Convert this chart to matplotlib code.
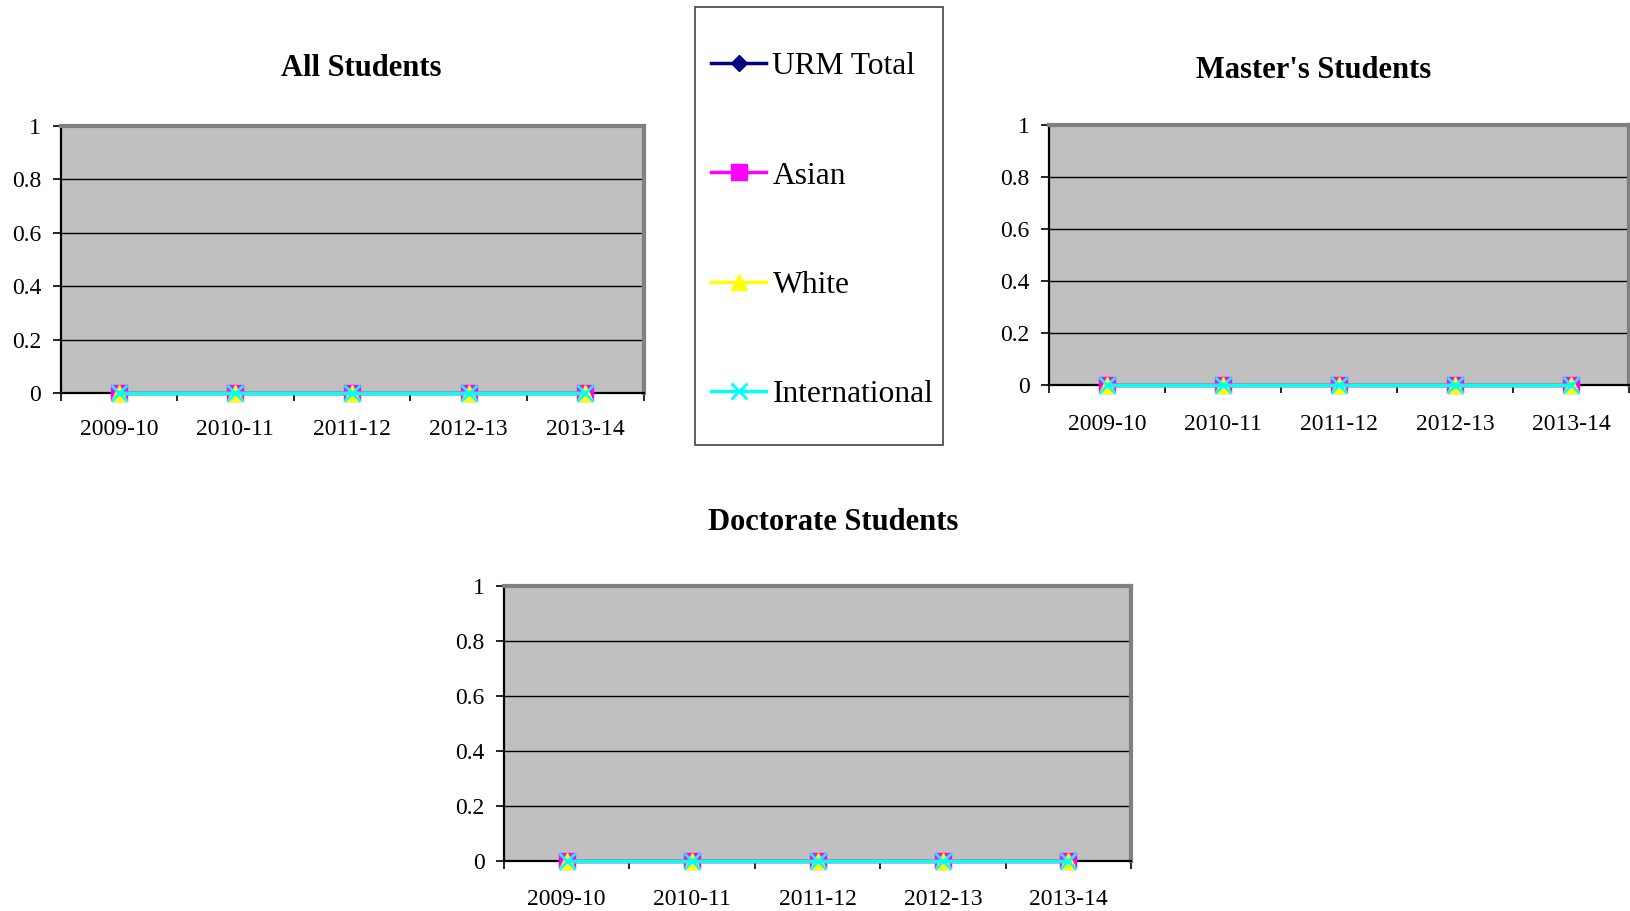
import matplotlib
matplotlib.use("Agg")
import matplotlib.pyplot as plt
from matplotlib.patches import Rectangle

plt.rcParams['font.family'] = ['Liberation Serif', 'DejaVu Serif']

years = ["2009-10", "2010-11", "2011-12", "2012-13", "2013-14"]
series_names = ["URM Total", "Asian", "White", "International"]
all_students = {
    "URM Total": [0, 0, 0, 0, 0],
    "Asian": [0, 0, 0, 0, 0],
    "White": [0, 0, 0, 0, 0],
    "International": [0, 0, 0, 0, 0],
}
masters_students = {
    "URM Total": [0, 0, 0, 0, 0],
    "Asian": [0, 0, 0, 0, 0],
    "White": [0, 0, 0, 0, 0],
    "International": [0, 0, 0, 0, 0],
}
doctorate_students = {
    "URM Total": [0, 0, 0, 0, 0],
    "Asian": [0, 0, 0, 0, 0],
    "White": [0, 0, 0, 0, 0],
    "International": [0, 0, 0, 0, 0],
}
yticks = [0, 0.2, 0.4, 0.6, 0.8, 1]
ytick_labels = ["0", "0.2", "0.4", "0.6", "0.8", "1"]

styles = {
    "URM Total": dict(color="#000080", marker="D", markersize=8),
    "Asian": dict(color="#FF00FF", marker="s", markersize=11.5),
    "White": dict(color="#FFFF00", marker="^", markersize=12),
    "International": dict(color="#00FFFF", marker="x", markersize=11, markeredgewidth=2),
}

W, H = 1630, 911
fig = plt.figure(figsize=(W / 100, H / 100), dpi=100)


def px_axes(left, top, right, bottom):
    return fig.add_axes([left / W, 1 - bottom / H, (right - left) / W, (bottom - top) / H])


def draw(ax, data, title, tx, ty, label_pad):
    ax.set_facecolor("#C0C0C0")
    n = len(years)
    centers = [i + 0.5 for i in range(n)]
    for name in series_names:
        st = styles[name]
        ax.plot(centers, data[name], linewidth=2.5, color=st["color"], marker=st["marker"],
                markersize=st["markersize"], markeredgewidth=st.get("markeredgewidth", 1),
                markeredgecolor=st["color"], markerfacecolor=st["color"], label=name,
                clip_on=False, zorder=3)
    ax.set_xlim(0, n)
    ax.set_ylim(0, 1)
    ax.set_yticks(yticks)
    ax.set_yticklabels(ytick_labels, fontsize=17)
    ax.set_xticks(range(n + 1))
    ax.set_xticklabels([])
    ax.set_xticks(centers, minor=True)
    ax.set_xticklabels(years, minor=True, fontsize=17)
    ax.tick_params(axis="x", which="minor", length=0, pad=label_pad)
    ax.tick_params(axis="x", which="major", length=6, width=1.2, direction="out")
    ax.tick_params(axis="y", length=6, width=1.2, pad=8, direction="out")
    ax.grid(axis="y", color="black", linewidth=1)
    ax.set_axisbelow(True)
    for s in ["top", "right"]:
        ax.spines[s].set_color("#808080")
        ax.spines[s].set_linewidth(3)
    for s in ["left", "bottom"]:
        ax.spines[s].set_color("black")
        ax.spines[s].set_linewidth(1.6)
    fig.text(tx / W, 1 - ty / H, title, fontsize=22, fontweight="bold",
             ha="center", va="center")


ax1 = px_axes(60.5, 126, 643.5, 393)
draw(ax1, all_students, "All Students", 361, 68.5, 19)
ax2 = px_axes(1049.3, 124.5, 1629, 385)
draw(ax2, masters_students, "Master's Students", 1314, 70, 21)
ax3 = px_axes(504, 586, 1131, 861)
draw(ax3, doctorate_students, "Doctorate Students", 833, 523, 20)

# legend box
fig.patches.append(Rectangle((695 / W, 1 - 444.5 / H), (943 - 695) / W, (444.5 - 7.5) / H,
                             transform=fig.transFigure, fill=False, edgecolor="#505050",
                             linewidth=1.3))
handles, labels = ax1.get_legend_handles_labels()
fig.legend(handles, labels, loc="upper left", bbox_to_anchor=(711 / W, 1 - 52 / H),
           frameon=False, fontsize=22.7, handlelength=1.75, handletextpad=0.2,
           labelspacing=2.55, borderpad=0, borderaxespad=0)

fig.savefig("out.png", dpi=100)
